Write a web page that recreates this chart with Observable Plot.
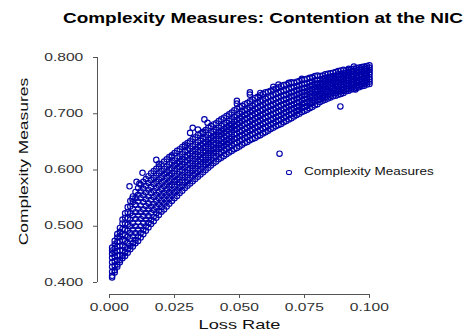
<!DOCTYPE html>
<html><head><meta charset="utf-8">
<script src="https://cdn.jsdelivr.net/npm/d3@7"></script>
<script src="https://cdn.jsdelivr.net/npm/@observablehq/plot@0.6"></script>
<style>
body{margin:0;background:#fff;font-family:"Liberation Sans",Arial,sans-serif;}
#wrap{position:relative;width:476px;height:333px;overflow:hidden;}
#title{height:28px;position:relative;}
#title span{position:absolute;left:263px;top:11px;font-size:14px;line-height:14px;font-weight:bold;white-space:nowrap;transform:translateX(-50%) scaleX(1.353);color:#000;}
.lg-dot{position:absolute;left:286px;top:170px;width:3.6px;height:2.6px;border:1.3px solid #0000aa;border-radius:50%;}
.lg-text{position:absolute;left:304px;top:167px;font-size:10px;line-height:10px;transform:scaleX(1.35);transform-origin:left center;white-space:nowrap;color:#111;}
</style></head>
<body>
<div id="wrap">
  <div id="title"><span>Complexity Measures: Contention at the NIC</span></div>
  <div id="chart"></div>
  <div class="lg-dot"></div>
  <div class="lg-text">Complexity Measures</div>
</div>
<script>
const titleText = "Complexity Measures: Contention at the NIC";
const seriesName = "Complexity Measures";
const xLabel = "Loss Rate";
const yLabel = "Complexity Measures";
const xTicks = [0, 0.025, 0.05, 0.075, 0.1];
const yTicks = [0.4, 0.5, 0.6, 0.7, 0.8];

const lossRate = [
0.001,0.002,0.003,0.004,0.005,0.006,0.007,0.008,0.009,0.010,
0.011,0.012,0.013,0.014,0.015,0.016,0.017,0.018,0.019,0.020,
0.021,0.022,0.023,0.024,0.025,0.026,0.027,0.028,0.029,0.030,
0.031,0.032,0.033,0.034,0.035,0.036,0.037,0.038,0.039,0.040,
0.041,0.042,0.043,0.044,0.045,0.046,0.047,0.048,0.049,0.050,
0.051,0.052,0.053,0.054,0.055,0.056,0.057,0.058,0.059,0.060,
0.061,0.062,0.063,0.064,0.065,0.066,0.067,0.068,0.069,0.070,
0.071,0.072,0.073,0.074,0.075,0.076,0.077,0.078,0.079,0.080,
0.081,0.082,0.083,0.084,0.085,0.086,0.087,0.088,0.089,0.090,
0.091,0.092,0.093,0.094,0.095,0.096,0.097,0.098,0.099,0.100];

const measures = [
[.412,.419,.428,.436,.444,.451,.457],
[.422,.430,.438,.446,.453,.461,.468],
[.432,.440,.448,.456,.464,.472,.480],
[.440,.448,.457,.465,.473,.482,.490],
[.447,.457,.466,.476,.486,.495,.505],
[.453,.463,.474,.484,.494,.505,.515],
[.459,.470,.481,.492,.503,.514,.525],
[.465,.477,.488,.500,.512,.523,.535],
[.470,.482,.494,.506,.519,.531,.543],
[.476,.488,.500,.513,.525,.538,.550],
[.482,.494,.507,.519,.531,.544,.556],
[.488,.500,.513,.525,.537,.550,.562],
[.494,.506,.518,.530,.543,.555,.567],
[.500,.512,.524,.536,.548,.560,.572],
[.506,.518,.530,.541,.553,.565,.577],
[.512,.524,.535,.547,.559,.570,.582],
[.517,.529,.540,.552,.563,.575,.586],
[.523,.534,.545,.556,.568,.579,.590],
[.528,.539,.550,.561,.572,.583,.594],
[.534,.545,.555,.566,.577,.587,.598],
[.540,.550,.560,.571,.581,.592,.602],
[.545,.555,.565,.575,.586,.596,.606],
[.550,.560,.570,.580,.590,.600,.610],
[.555,.565,.574,.584,.594,.603,.613],
[.560,.570,.579,.589,.598,.608,.617],
[.564,.574,.583,.593,.602,.612,.621],
[.569,.578,.587,.597,.606,.615,.624],
[.573,.582,.591,.600,.610,.619,.628],
[.578,.587,.596,.605,.614,.623,.632],
[.582,.591,.600,.609,.617,.626,.635],
[.586,.595,.603,.612,.621,.629,.638],
[.590,.599,.607,.616,.625,.633,.642],
[.594,.603,.611,.620,.628,.637,.645],
[.598,.607,.615,.624,.632,.641,.649],
[.602,.610,.619,.627,.635,.644,.652],
[.606,.614,.622,.631,.639,.647,.655],
[.610,.618,.626,.634,.642,.650,.658],
[.614,.622,.630,.638,.646,.654,.662],
[.618,.626,.634,.642,.649,.657,.665],
[.622,.630,.637,.645,.653,.660,.668],
[.625,.633,.640,.648,.656,.663,.671],
[.629,.637,.644,.652,.660,.667,.675],
[.632,.640,.647,.655,.663,.670,.678],
[.635,.643,.650,.658,.666,.673,.681],
[.638,.646,.653,.661,.669,.676,.684],
[.641,.649,.656,.664,.672,.679,.687],
[.644,.652,.659,.667,.675,.682,.690],
[.647,.655,.663,.671,.678,.686,.694],
[.649,.657,.665,.673,.681,.689,.697],
[.652,.660,.668,.676,.684,.692,.700],
[.654,.662,.670,.679,.687,.695,.703],
[.657,.665,.673,.682,.690,.698,.706],
[.659,.667,.675,.684,.692,.700,.708],
[.662,.670,.678,.686,.695,.703,.711],
[.664,.672,.681,.689,.697,.706,.714],
[.666,.675,.683,.692,.700,.709,.717],
[.669,.677,.686,.694,.702,.711,.719],
[.671,.680,.688,.697,.705,.714,.722],
[.674,.682,.691,.699,.707,.716,.724],
[.676,.685,.693,.702,.710,.719,.727],
[.678,.687,.695,.704,.712,.721,.729],
[.681,.689,.698,.706,.714,.723,.731],
[.683,.691,.700,.708,.716,.725,.733],
[.686,.694,.702,.710,.719,.727,.735],
[.688,.696,.704,.713,.721,.729,.737],
[.690,.698,.706,.715,.723,.731,.739],
[.693,.701,.709,.717,.725,.733,.741],
[.695,.703,.711,.719,.726,.734,.742],
[.698,.706,.713,.721,.729,.736,.744],
[.700,.708,.715,.723,.731,.738,.746],
[.702,.710,.717,.725,.732,.740,.747],
[.705,.712,.720,.727,.734,.742,.749],
[.707,.714,.721,.729,.736,.743,.750],
[.710,.717,.724,.731,.738,.745,.752],
[.712,.719,.726,.733,.739,.746,.753],
[.714,.721,.727,.734,.741,.747,.754],
[.717,.723,.730,.736,.743,.749,.756],
[.719,.725,.732,.738,.744,.751,.757],
[.722,.728,.734,.740,.747,.753,.759],
[.724,.730,.736,.742,.748,.754,.760],
[.726,.732,.738,.744,.749,.755,.761],
[.728,.734,.740,.745,.751,.756,.762],
[.730,.736,.741,.747,.753,.758,.764],
[.732,.738,.743,.749,.754,.760,.765],
[.734,.739,.745,.750,.755,.761,.766],
[.736,.741,.746,.752,.757,.762,.767],
[.737,.742,.748,.753,.758,.763,.768],
[.739,.744,.749,.755,.760,.765,.770],
[.740,.745,.751,.756,.761,.766,.771],
[.742,.747,.752,.757,.762,.767,.772],
[.744,.749,.754,.759,.763,.768,.773],
[.745,.750,.755,.760,.764,.769,.774],
[.747,.752,.756,.761,.766,.770,.775],
[.748,.753,.757,.762,.767,.771,.776],
[.750,.755,.759,.764,.768,.773,.777],
[.751,.756,.760,.765,.769,.774,.778],
[.753,.757,.762,.766,.770,.775,.779],
[.754,.758,.763,.767,.771,.776,.780],
[.756,.760,.764,.768,.773,.777,.781],
[.757,.761,.765,.770,.774,.778,.782]];

const upperExtra = [
.462,.474,.486,.497,.512,.523,.534,.545,.553,.561,
.568,.574,.579,.584,.589,.594,.598,.602,.606,.610,
.615,.619,.623,.626,.630,.634,.637,.641,.645,.648,
.651,.655,.658,.662,.665,.668,.671,.675,.678,.681,
.683,.687,.690,.693,.696,.699,.702,.706,.709,.712,
.714,.717,.719,.722,.725,.728,.730,.733,.735,.738,
.739,.741,.743,.745,.747,.749,.751,.752,.754,.756,
.755,.757,.758,.760,.761,.762,.764,.765,.767,.768,
.767,.768,.770,.771,.772,.773,.774,.776,.777,.778,
.777,.778,.779,.780,.781,.782,.783,.784,.785,.786];

const lowerExtra = [
.409,.418,.428,.436,.443,.447,.453,.459,.464,.470,
.474,.480,.486,.492,.498,.504,.509,.515,.520,.526,
.530,.535,.540,.545,.550,.554,.559,.563,.568,.572,
.576,.580,.584,.588,.592,.596,.600,.604,.608,.612,
.615,.619,.622,.625,.628,.631,.634,.637,.639,.642,
.645,.648,.650,.653,.655,.657,.660,.662,.665,.667,
.670,.673,.675,.678,.680,.682,.685,.687,.690,.692,
.695,.698,.700,.703,.705,.707,.710,.712,.715,.717,
.721,.723,.725,.727,.729,.731,.732,.734,.735,.737,
.740,.741,.743,.744,.746,.747,.749,.750,.752,.753];

const outlierX = [0.0077,0.0088,0.0104,0.0115,0.0127,0.018,0.019,0.024,0.029,0.031,0.032,0.034,0.036,0.0365,0.0377,0.049,0.049,0.054,0.054,0.058,0.063,0.065,0.069,0.074,0.078,0.092,0.094,0.0654,0.0888,0.0946];
const outlierY = [0.571,0.549,0.579,0.576,0.595,0.618,0.611,0.624,0.642,0.666,0.675,0.672,0.666,0.690,0.684,0.723,0.718,0.734,0.738,0.737,0.748,0.752,0.755,0.762,0.764,0.780,0.784,0.629,0.713,0.743];

const points = [];
lossRate.forEach((x, i) => {
  measures[i].forEach(y => points.push({x, y}));
  points.push({x, y: upperExtra[i]});
  points.push({x, y: lowerExtra[i]});
});
outlierX.forEach((x, i) => points.push({x, y: outlierY[i]}));

const ink = "#0000aa";
const axisInk = "#555";

const svg = Plot.plot({
  width: 476, height: 305,
  marginLeft: 109, marginRight: 107, marginTop: 29, marginBottom: 51,
  style: {fontFamily: "'Liberation Sans', Arial, sans-serif", fontSize: "10px", color: "#333", background: "#fff"},
  x: {domain: [0, 0.1]},
  y: {domain: [0.4, 0.8]},
  marks: [
    Plot.ruleX([0], {y1: 0.4, y2: 0.8, dx: -12, stroke: axisInk}),
    Plot.ruleY([0.4], {x1: 0, x2: 0.1, dy: 12, stroke: axisInk}),
    Plot.axisY({ticks: yTicks, tickFormat: d3.format(".3f"), tickSize: 4, tickPadding: 10, dx: -12, label: null, stroke: axisInk, fill: "#333"}),
    Plot.axisX({ticks: xTicks, tickFormat: d3.format(".3f"), tickSize: 4, tickPadding: 5, dy: 12, label: null, stroke: axisInk, fill: "#333"}),
    Plot.text([xLabel], {frameAnchor: "bottom", dy: 42, fontSize: 13, lineAnchor: "middle", fill: "#111"}),
    Plot.text([yLabel], {frameAnchor: "left", dx: -86, dy: -8.5, rotate: -90, fontSize: 13, textAnchor: "middle", lineAnchor: "middle", fill: "#111"}),
    Plot.dot(points, {x: "x", y: "y", r: 2.7, stroke: ink, strokeWidth: 1.15, fill: "none"})
  ]
});
document.getElementById("chart").appendChild(svg);

// The reference renders its text with wide glyphs: stretch each text along its reading direction.
const NS = "http://www.w3.org/2000/svg";
function wrapStretch(t, s, vertical, anchor) {
  const p = t.parentNode;
  const m = p.getScreenCTM();
  const g = document.createElementNS(NS, "g");
  p.insertBefore(g, t);
  g.appendChild(t);
  if (!vertical) {
    const a = (anchor - m.e) / m.a;
    g.setAttribute("transform", `translate(${a},0) scale(${s},1) translate(${-a},0)`);
  } else {
    const a = (anchor - m.f) / m.d;
    g.setAttribute("transform", `translate(0,${a}) scale(1,${s}) translate(0,${-a})`);
  }
}
Array.from(svg.querySelectorAll("text")).forEach(t => {
  const r = t.getBoundingClientRect();
  const s = t.textContent;
  if (r.width === 0) return;
  if (s === xLabel) wrapStretch(t, 1.4, false, r.left + r.width / 2);
  else if (s === yLabel) wrapStretch(t, 1.34, true, r.top + r.height / 2);
  else if (r.left + r.width / 2 < 100) wrapStretch(t, 1.56, false, r.right);
  else wrapStretch(t, 1.56, false, r.left + r.width / 2);
});
</script>
</body></html>
